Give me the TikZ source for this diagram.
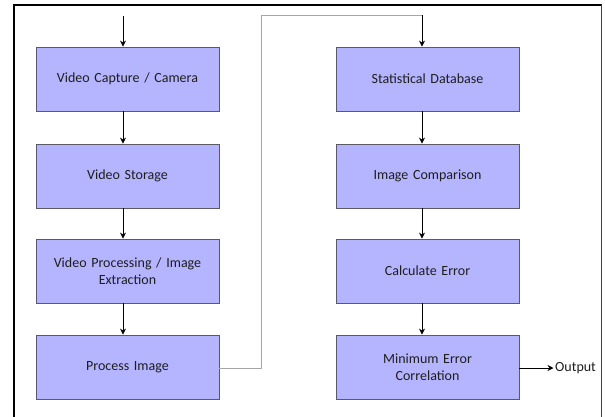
\documentclass[tikz,border=0pt]{standalone}
\usepackage{fontspec}
\setmainfont{Carlito}
\usetikzlibrary{arrows.meta}
\definecolor{boxfill}{RGB}{180,180,255}
\definecolor{boxline}{RGB}{90,90,100}
\definecolor{txt}{RGB}{30,30,30}
\begin{document}
\begin{tikzpicture}[x=1pt,y=-1pt,
  stepbox/.style={draw=boxline,line width=0.8pt,fill=boxfill,minimum width=183pt,minimum height=64pt,inner sep=0pt,align=center,text width=170pt,font=\fontsize{14}{17}\selectfont,text=txt},
  arr/.style={line width=0.9pt,-{Stealth[length=6pt,width=6pt]}},
  feed/.style={draw=gray!70,line width=0.8pt}]
\useasboundingbox (0,0) rectangle (605,416);
\fill[white] (0,0) rectangle (605,416);
\draw[line width=2.2pt] (14,420) -- (14,5) -- (602,5);
\draw[line width=1pt,black!75] (601.5,5) -- (601.5,420);
% left column
\node[stepbox] (a) at (127.5,79) {Video Capture / Camera};
\node[stepbox] (b) at (127.5,176) {Video Storage};
\node[stepbox] (c) at (127.5,271) {Video Processing / Image\\Extraction};
\node[stepbox] (d) at (127.5,367) {Process Image};
% right column
\node[stepbox] (e) at (427.5,79) {Statistical Database};
\node[stepbox] (f) at (427.5,176) {Image Comparison};
\node[stepbox] (g) at (427.5,271) {Calculate Error};
\node[stepbox] (h) at (427.5,367) {Minimum Error\\Correlation};
\node[font=\fontsize{14}{17}\selectfont,text=txt,anchor=west,inner sep=0pt] (out) at (555,368) {Output};
\coordinate (start) at (123,16);
\coordinate (k1) at (261,368);
\coordinate (k2) at (261,15);
\coordinate (k3) at (422,15);
\draw[arr] (start) -- (start |- a.north);
\draw[arr] ([xshift=-4.5pt]a.south) -- ([xshift=-4.5pt]b.north);
\draw[arr] ([xshift=-4.5pt]b.south) -- ([xshift=-4.5pt]c.north);
\draw[arr] ([xshift=-4.5pt]c.south) -- ([xshift=-4.5pt]d.north);
\draw[feed] (d.east |- k1) -- (k1) -- (k2) -- (k3);
\draw[arr] (k3) -- (k3 |- e.north);
\draw[arr] ([xshift=-5.5pt]e.south) -- ([xshift=-5.5pt]f.north);
\draw[arr] ([xshift=-5.5pt]f.south) -- ([xshift=-5.5pt]g.north);
\draw[arr] ([xshift=-5.5pt]g.south) -- ([xshift=-5.5pt]h.north);
\draw[arr] (h.east |- out.west) -- ([xshift=-1.5pt]out.west);
\end{tikzpicture}
\end{document}
